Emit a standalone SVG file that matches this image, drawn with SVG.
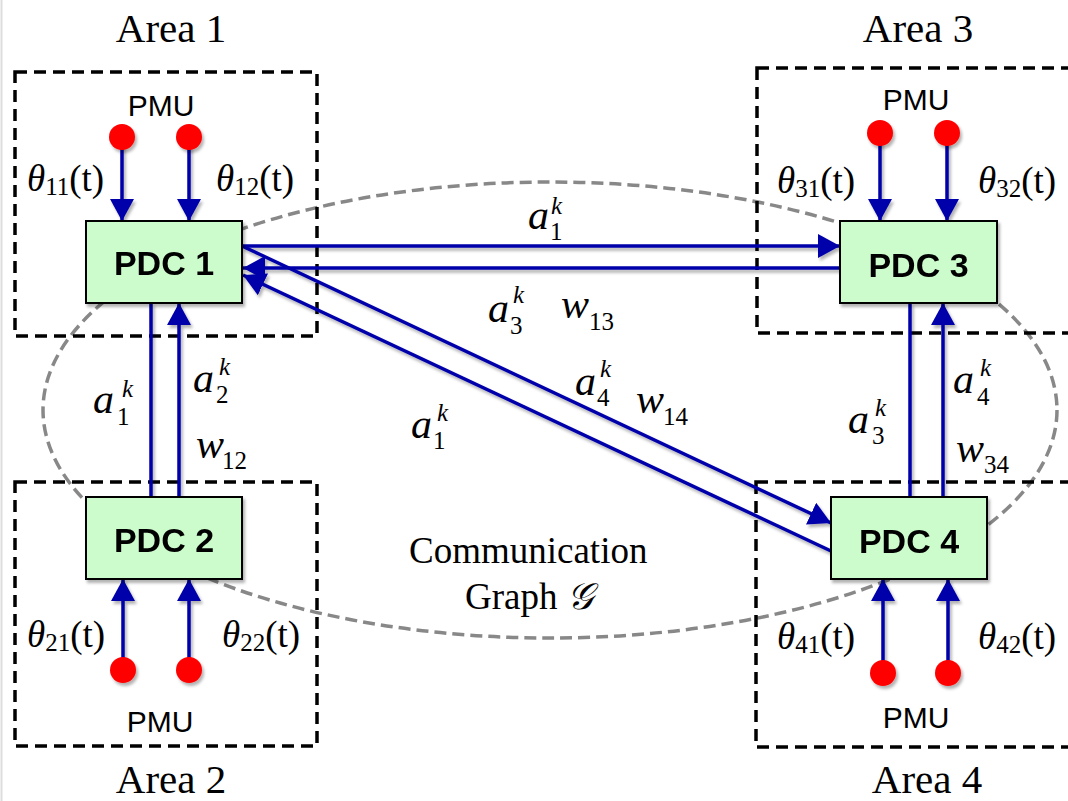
<svg xmlns="http://www.w3.org/2000/svg" width="1068" height="801" viewBox="0 0 1068 801">
<defs>
<style>
.area{fill:none;stroke:#000;stroke-width:3.5;stroke-dasharray:12 7}
.graph{fill:none;stroke:#888;stroke-width:3.5;stroke-dasharray:12 6}
.pdc{fill:#ccfccc;stroke:#000;stroke-width:2}
.pdct{font-family:"Liberation Sans",Arial,sans-serif;font-weight:bold;font-size:34px;text-anchor:middle;fill:#000}
.dot{fill:#ff0000}
.pmut{font-family:"Liberation Sans",Arial,sans-serif;font-size:30px;text-anchor:middle;fill:#000}
.link{stroke:#0000aa;stroke-width:3.5;fill:none}
.arr{marker-end:url(#ah)}
.serif{font-family:"Liberation Serif","Times New Roman",serif;fill:#000}
.areat{font-family:"Liberation Serif","Times New Roman",serif;font-size:41px;text-anchor:middle;fill:#000}
.th{font-family:"Liberation Serif","Times New Roman",serif;font-size:37px;fill:#000}
.lbl{font-family:"Liberation Serif","Times New Roman",serif;font-size:42px;fill:#000}
.it{font-style:italic}
.sm{font-size:25px}
</style>
<marker id="ah" markerUnits="userSpaceOnUse" markerWidth="22" markerHeight="24" refX="22" refY="12" orient="auto">
<path d="M0,0 L22,12 L0,24 Z" fill="#0000aa"/>
</marker>
<filter id="sh" x="-10%" y="-10%" width="130%" height="130%">
<feDropShadow dx="2" dy="3" stdDeviation="1.8" flood-color="#000" flood-opacity="0.3"/>
</filter>
</defs>
<rect x="0" y="0" width="1068" height="801" fill="#fff"/>
<line x1="1.5" y1="0" x2="1.5" y2="801" stroke="#ddd" stroke-width="2"/>

<g id="graph-ellipse">
<ellipse class="graph" cx="550" cy="410" rx="507" ry="228"/>
</g>

<g id="areas">
<rect id="area1-box" class="area" x="15" y="72" width="302" height="264"/>
<rect id="area2-box" class="area" x="15" y="482" width="302" height="264"/>
<rect id="area3-box" class="area" x="757" y="68" width="330" height="265"/>
<rect id="area4-box" class="area" x="756" y="482" width="330" height="265"/>
<text class="areat" x="171" y="42">Area 1</text>
<text class="areat" x="171" y="793">Area 2</text>
<text class="areat" x="927" y="793">Area 4</text>
<text class="areat" x="918" y="42">Area 3</text>
</g>

<g id="connectors" filter="url(#sh)">
<line class="link arr" x1="122" y1="137" x2="122" y2="221"/>
<line class="link arr" x1="189" y1="137" x2="189" y2="221"/>
<line class="link arr" x1="123" y1="670" x2="123" y2="579"/>
<line class="link arr" x1="189" y1="670" x2="189" y2="579"/>
<line class="link arr" x1="880" y1="133" x2="880" y2="221"/>
<line class="link arr" x1="947" y1="133" x2="947" y2="221"/>
<line class="link arr" x1="883" y1="673" x2="883" y2="579"/>
<line class="link arr" x1="948" y1="673" x2="948" y2="579"/>
<line class="link arr" x1="242" y1="246" x2="840" y2="246"/>
<line class="link arr" x1="840" y1="268" x2="243" y2="268"/>
<line class="link arr" x1="242" y1="246" x2="831" y2="523"/>
<line class="link arr" x1="831" y1="551" x2="243" y2="275"/>
<line class="link" x1="151" y1="303" x2="151" y2="497"/>
<line class="link arr" x1="179" y1="497" x2="179" y2="303"/>
<line class="link" x1="910" y1="303" x2="910" y2="497"/>
<line class="link arr" x1="943" y1="497" x2="943" y2="303"/>
</g>

<g id="pdc1" filter="url(#sh)">
<rect class="pdc" x="86" y="221" width="156" height="82"/>
<text class="pdct" x="164" y="275">PDC 1</text>
</g>
<g id="pdc2" filter="url(#sh)">
<rect class="pdc" x="86" y="497" width="156" height="82"/>
<text class="pdct" x="164" y="552">PDC 2</text>
</g>
<g id="pdc3" filter="url(#sh)">
<rect class="pdc" x="840" y="221" width="157" height="82"/>
<text class="pdct" x="918.5" y="277">PDC 3</text>
</g>
<g id="pdc4" filter="url(#sh)">
<rect class="pdc" x="831" y="497" width="156" height="82"/>
<text class="pdct" x="909" y="553">PDC 4</text>
</g>

<g id="pmu1">
<circle class="dot" cx="122" cy="137" r="13" filter="url(#sh)"/>
<circle class="dot" cx="189" cy="137" r="13" filter="url(#sh)"/>
<text class="pmut" x="161" y="116">PMU</text>
</g>
<g id="pmu2">
<circle class="dot" cx="123" cy="670" r="13" filter="url(#sh)"/>
<circle class="dot" cx="189" cy="670" r="13" filter="url(#sh)"/>
<text class="pmut" x="160" y="732">PMU</text>
</g>
<g id="pmu3">
<circle class="dot" cx="880" cy="133" r="13" filter="url(#sh)"/>
<circle class="dot" cx="947" cy="133" r="13" filter="url(#sh)"/>
<text class="pmut" x="916" y="110">PMU</text>
</g>
<g id="pmu4">
<circle class="dot" cx="883" cy="673" r="13" filter="url(#sh)"/>
<circle class="dot" cx="948" cy="673" r="13" filter="url(#sh)"/>
<text class="pmut" x="916" y="728">PMU</text>
</g>

<g id="theta-labels">
<text class="th" x="27" y="191"><tspan class="it">θ</tspan><tspan class="sm" dy="4">11</tspan><tspan dy="-4">(t)</tspan></text>
<text class="th" x="216" y="191"><tspan class="it">θ</tspan><tspan class="sm" dy="4">12</tspan><tspan dy="-4">(t)</tspan></text>
<text class="th" x="777" y="193"><tspan class="it">θ</tspan><tspan class="sm" dy="4">31</tspan><tspan dy="-4">(t)</tspan></text>
<text class="th" x="978" y="193"><tspan class="it">θ</tspan><tspan class="sm" dy="4">32</tspan><tspan dy="-4">(t)</tspan></text>
<text class="th" x="27" y="647"><tspan class="it">θ</tspan><tspan class="sm" dy="4">21</tspan><tspan dy="-4">(t)</tspan></text>
<text class="th" x="222" y="647"><tspan class="it">θ</tspan><tspan class="sm" dy="4">22</tspan><tspan dy="-4">(t)</tspan></text>
<text class="th" x="777" y="649"><tspan class="it">θ</tspan><tspan class="sm" dy="4">41</tspan><tspan dy="-4">(t)</tspan></text>
<text class="th" x="978" y="649"><tspan class="it">θ</tspan><tspan class="sm" dy="4">42</tspan><tspan dy="-4">(t)</tspan></text>
</g>

<g id="edge-labels">
<text class="lbl"><tspan class="it" x="528" y="229">a</tspan><tspan class="it sm" x="551" y="214">k</tspan><tspan class="sm" x="550" y="240">1</tspan></text>
<text class="lbl"><tspan class="it" x="488" y="322">a</tspan><tspan class="it sm" x="513" y="303">k</tspan><tspan class="sm" x="510" y="334">3</tspan></text>
<text class="lbl"><tspan class="it" x="561" y="318">w</tspan><tspan class="sm" x="589" y="330">13</tspan></text>
<text class="lbl"><tspan class="it" x="575" y="395">a</tspan><tspan class="it sm" x="600" y="377">k</tspan><tspan class="sm" x="597" y="406">4</tspan></text>
<text class="lbl"><tspan class="it" x="636" y="413">w</tspan><tspan class="sm" x="663" y="425">14</tspan></text>
<text class="lbl"><tspan class="it" x="411" y="438">a</tspan><tspan class="it sm" x="437" y="421">k</tspan><tspan class="sm" x="433" y="449">1</tspan></text>
<text class="lbl"><tspan class="it" x="93" y="413">a</tspan><tspan class="it sm" x="122" y="397">k</tspan><tspan class="sm" x="117" y="425">1</tspan></text>
<text class="lbl"><tspan class="it" x="193" y="392">a</tspan><tspan class="it sm" x="219" y="375">k</tspan><tspan class="sm" x="216" y="403">2</tspan></text>
<text class="lbl"><tspan class="it" x="196" y="458">w</tspan><tspan class="sm" x="222" y="469">12</tspan></text>
<text class="lbl"><tspan class="it" x="848" y="433">a</tspan><tspan class="it sm" x="875" y="416">k</tspan><tspan class="sm" x="872" y="444">3</tspan></text>
<text class="lbl"><tspan class="it" x="953" y="393">a</tspan><tspan class="it sm" x="980" y="376">k</tspan><tspan class="sm" x="977" y="405">4</tspan></text>
<text class="lbl"><tspan class="it" x="956" y="462">w</tspan><tspan class="sm" x="984" y="473">34</tspan></text>
</g>

<g id="graph-label">
<text class="serif" font-size="37" x="409" y="563">Communication</text>
<text class="serif" font-size="37" x="465" y="609">Graph <tspan font-family="'DejaVu Serif','DejaVu Sans','Noto Sans',serif" font-style="italic">𝒢</tspan></text>
</g>
</svg>
